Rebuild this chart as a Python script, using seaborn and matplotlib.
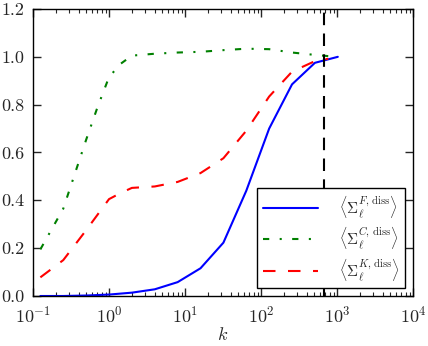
import numpy as np
import pandas as pd
import matplotlib
matplotlib.use("Agg")
import matplotlib.pyplot as plt
import seaborn as sns

# ─── Data ───────────────────────────────────────────────────────────────────
k_full = [0.125, 0.25, 0.5, 1, 2, 4, 8, 16, 32, 64, 128, 256, 512, 1024]
sigma_F = [0.0, 0.0, 0.002, 0.006, 0.014, 0.028, 0.058, 0.116, 0.223,
           0.44, 0.70, 0.885, 0.975, 1.0]

k_cut = [0.125, 0.25, 0.5, 0.707, 1, 1.41, 2, 4, 8, 16, 32, 64, 128, 256, 512, 768]
sigma_C = [0.195, 0.365, 0.653, 0.79, 0.915, 0.97, 1.005, 1.013, 1.018,
           1.021, 1.028, 1.034, 1.032, 1.018, 1.008, 1.003]
sigma_K = [0.078, 0.15, 0.275, 0.34, 0.405, 0.43, 0.452, 0.458, 0.477,
           0.514, 0.576, 0.691, 0.834, 0.938, 0.982, 0.992]

k_marker = 680

labels = [r"$\left\langle\Sigma_\ell^{F,\,\mathrm{diss}}\right\rangle$",
          r"$\left\langle\Sigma_\ell^{C,\,\mathrm{diss}}\right\rangle$",
          r"$\left\langle\Sigma_\ell^{K,\,\mathrm{diss}}\right\rangle$"]

# ─── Style ──────────────────────────────────────────────────────────────────
sns.set_style("ticks")
plt.rcParams.update({
    "font.family": "serif",
    "font.serif": ["cmr10", "DejaVu Serif"],
    "mathtext.fontset": "cm",
    "axes.formatter.use_mathtext": True,
    "axes.unicode_minus": False,
    "font.size": 11,
    "axes.linewidth": 1.0,
    "axes.edgecolor": "black",
    "xtick.direction": "in",
    "ytick.direction": "in",
    "xtick.top": True,
    "ytick.right": True,
})

df_F = pd.DataFrame({"k": k_full, "val": sigma_F})
df_C = pd.DataFrame({"k": k_cut, "val": sigma_C})
df_K = pd.DataFrame({"k": k_cut, "val": sigma_K})

fig = plt.figure(figsize=(4.28, 3.46), dpi=100)
ax = fig.add_axes([0.0771, 0.1445, 0.8879, 0.8295])

sns.lineplot(data=df_F, x="k", y="val", ax=ax, color="b", lw=1.5,
             label=labels[0])
sns.lineplot(data=df_C, x="k", y="val", ax=ax, color="g", lw=1.5,
             linestyle=(0, (3, 5, 1, 5)), label=labels[1])
sns.lineplot(data=df_K, x="k", y="val", ax=ax, color="r", lw=1.5,
             linestyle=(0, (6, 6)), label=labels[2])
ax.axvline(k_marker, color="black", lw=1.5, linestyle=(0, (6, 4)))

ax.set_xscale("log")
ax.set_xlim(0.1, 1e4)
ax.set_ylim(0, 1.2)
ax.set_yticks(np.arange(0, 1.21, 0.2))
ax.yaxis.set_major_formatter(matplotlib.ticker.FormatStrFormatter("%.1f"))
ax.tick_params(which="major", length=6, width=1, pad=6, labelsize=13)
ax.tick_params(which="minor", length=3, width=0.8)
ax.set_xlabel(r"$k$", fontsize=13, labelpad=1)
ax.set_ylabel("")

leg = ax.legend(loc="lower right", handlelength=3.6, labelspacing=0.3,
                fancybox=False, framealpha=1, borderpad=0.35, handletextpad=1.4,
                fontsize=11)
leg.get_frame().set_edgecolor("black")
leg.get_frame().set_linewidth(1.0)

fig.savefig("out.png", dpi=100, facecolor="white")
plt.close()
